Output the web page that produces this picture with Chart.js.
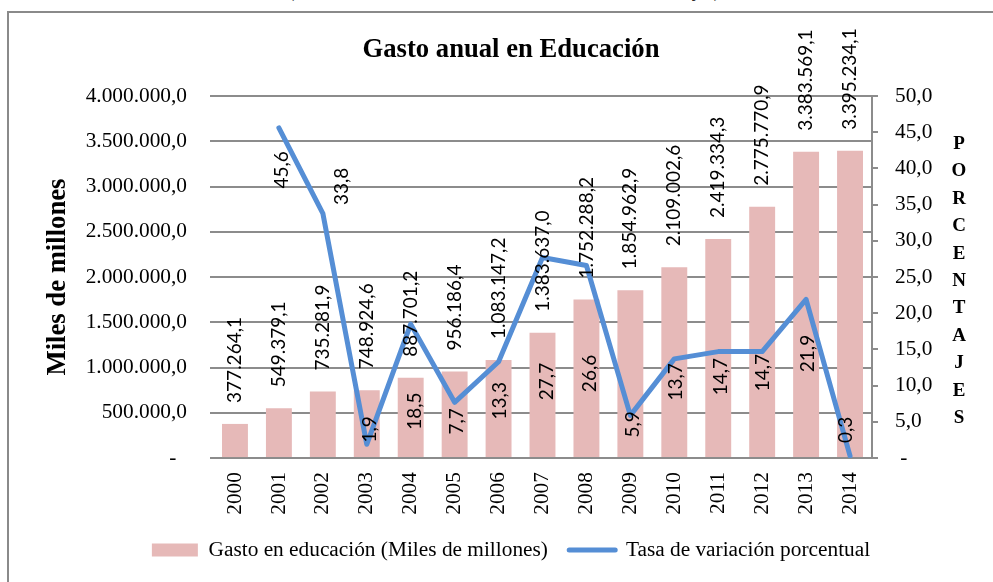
<!DOCTYPE html>
<html lang="es">
<head>
<meta charset="utf-8">
<title>Gasto anual en Educación</title>
<script src="https://cdn.jsdelivr.net/npm/chart.js@4.4.1/dist/chart.umd.min.js"></script>
<style>
  html, body { margin: 0; padding: 0; background: #fff; overflow: hidden; }
  .page { position: relative; width: 993px; height: 582px; overflow: hidden; }
  .frame {
    position: absolute; left: 7px; top: 11px; width: 1100px; height: 700px;
    border-left: 2px solid #8a8a8a; border-top: 2px solid #8a8a8a;
  }
  .cut-caption {
    position: absolute; left: 288px; top: -19px; white-space: nowrap;
    font: 19px/20px "Liberation Serif", "Times New Roman", serif; color: #000;
  }
  #chart-gasto { position: absolute; left: 0; top: 0; }
  .axis-right-title {
    position: absolute; left: 944px; top: 129px; width: 30px; text-align: center;
    font: bold 19px/27.4px "Liberation Serif", "Times New Roman", serif; color: #000;
  }
</style>
</head>
<body>
<div class="page">
  <div class="cut-caption">(Miles de millones de bolívares corrientes – Porcentajes)</div>
  <div class="frame"></div>
  <canvas id="chart-gasto" width="993" height="582"></canvas>
  <div class="axis-right-title" id="right-title"></div>
</div>
<script>
const SERIF = "'Liberation Serif', 'Times New Roman', serif";
const SANS = "Lato, 'Liberation Sans', sans-serif";
const TICK_SIZE = 21.33;

const YEARS = ["2000", "2001", "2002", "2003", "2004", "2005", "2006", "2007",
  "2008", "2009", "2010", "2011", "2012", "2013", "2014"];

// Gasto en educación (miles de millones)
const GASTO = [377264.1, 549379.1, 735281.9, 748924.6, 887701.2, 956186.4, 1083147.2,
  1383637.0, 1752288.2, 1854962.9, 2109002.6, 2419334.3, 2775770.9, 3383569.1, 3395234.1];

// Tasa de variación porcentual
const TASA = [null, 45.6, 33.8, 1.9, 18.5, 7.7, 13.3, 27.7, 26.6, 5.9, 13.7, 14.7, 14.7, 21.9, 0.3];

// where each rate label sits relative to its point (px), as placed in the original
const TASA_LABEL_SHIFT = [null, [3, 42], [19, -27], [3, -15], [4, 87], [2, 19], [1, 39],
  [4, 124], [3, 108], [3, 9], [2, 23], [3, 25], [1, 21], [2, 54], [-4, -26]];

const COLORS = { bar: "#E6B9B8", line: "#558ED5", grid: "#8c8c8c" };

function fmtEs(v, decimals = 1) {
  const [int, dec] = v.toFixed(decimals).split(".");
  return int.replace(/\B(?=(\d{3})+(?!\d))/g, ".") + "," + dec;
}

const valueLabels = {
  id: "valueLabels",
  afterDatasetsDraw(chart) {
    const ctx = chart.ctx;
    ctx.save();
    ctx.font = "19px " + SANS;
    ctx.fillStyle = "#000";
    ctx.textBaseline = "middle";

    chart.getDatasetMeta(0).data.forEach((bar, i) => {
      ctx.save();
      ctx.translate(bar.x, bar.y - 21);
      ctx.rotate(-Math.PI / 2);
      ctx.textAlign = "left";
      ctx.fillText(fmtEs(GASTO[i]), 0, 0);
      ctx.restore();
    });

    chart.getDatasetMeta(1).data.forEach((pt, i) => {
      if (TASA[i] == null) return;
      const [dx, dy] = TASA_LABEL_SHIFT[i];
      ctx.save();
      ctx.translate(pt.x + dx, pt.y + dy);
      ctx.rotate(-Math.PI / 2);
      ctx.textAlign = "center";
      ctx.fillText(fmtEs(TASA[i]), 0, 0);
      ctx.restore();
    });
    ctx.restore();
  },
};

function initRightTitle() {
  document.getElementById("right-title").innerHTML =
    "PORCENTAJES".split("").map((c) => `<div>${c}</div>`).join("");
}

function initGastoChart() {
  new Chart(document.getElementById("chart-gasto"), {
    type: "bar",
    data: {
      labels: YEARS,
      datasets: [
        {
          label: "Gasto en educación (Miles de millones)",
          data: GASTO,
          backgroundColor: COLORS.bar,
          borderWidth: 0,
          barPercentage: 0.59,
          categoryPercentage: 1,
          yAxisID: "y",
          order: 1,
        },
        {
          type: "line",
          label: "Tasa de variación porcentual",
          data: TASA,
          borderColor: COLORS.line,
          backgroundColor: COLORS.line,
          borderWidth: 5,
          borderJoinStyle: "round",
          borderCapStyle: "round",
          pointRadius: 0,
          tension: 0,
          yAxisID: "y1",
          order: 0,
        },
      ],
    },
    plugins: [valueLabels],
    options: {
      responsive: false,
      animation: false,
      events: [],
      layout: { padding: { left: 38, right: 9, top: 0, bottom: 11.3 } },
      plugins: {
        tooltip: { enabled: false },
        title: {
          display: true,
          text: "Gasto anual en Educación",
          color: "#000",
          font: { family: SERIF, size: 26.67, weight: "bold" },
          padding: { top: 34, bottom: 30 },
        },
        legend: {
          position: "bottom",
          labels: {
            color: "#000",
            font: { family: SERIF, size: TICK_SIZE },
            usePointStyle: true,
            pointStyleWidth: 46,
            boxHeight: 13,
            padding: 21.3,
            generateLabels: () => [
              {
                text: "Gasto en educación (Miles de millones)",
                fillStyle: COLORS.bar, strokeStyle: COLORS.bar, lineWidth: 0,
                pointStyle: "rect", hidden: false, datasetIndex: 0, fontColor: "#000",
              },
              {
                text: "Tasa de variación porcentual",
                fillStyle: COLORS.line, strokeStyle: COLORS.line, lineWidth: 5,
                lineCap: "round", pointStyle: "line", hidden: false, datasetIndex: 1, fontColor: "#000",
              },
            ],
          },
        },
      },
      scales: {
        x: {
          offset: true,
          grid: { display: false, drawTicks: false },
          border: { display: false },
          ticks: {
            minRotation: 90, maxRotation: 90, padding: 14, color: "#000",
            font: { family: SERIF, size: TICK_SIZE },
          },
          afterFit: (s) => { s.height = 60; },
        },
        y: {
          position: "left",
          min: 0,
          max: 4000000,
          grid: { color: COLORS.grid, lineWidth: 2, tickLength: 3 },
          border: { display: false },
          ticks: {
            stepSize: 500000, padding: 23, color: "#000",
            font: { family: SERIF, size: TICK_SIZE },
            callback: (v) => (v === 0 ? "-  " : fmtEs(v)),
          },
          title: {
            display: true,
            text: "Miles de millones",
            color: "#000",
            font: { family: SERIF, size: 26.67, weight: "bold" },
            padding: { top: 4, bottom: 4 },
          },
          afterFit: (s) => { s.width = 175; },
        },
        y1: {
          position: "right",
          min: 0,
          max: 50,
          grid: { drawOnChartArea: false, color: COLORS.grid, lineWidth: 2, tickLength: 6 },
          border: { display: true, color: COLORS.grid, width: 2 },
          ticks: {
            stepSize: 5, padding: 17, color: "#000",
            font: { family: SERIF, size: TICK_SIZE },
            callback: (v) => (v === 0 ? " -" : fmtEs(v)),
          },
          afterFit: (s) => { s.width = 112; },
        },
      },
    },
  });
}

document.addEventListener("DOMContentLoaded", () => {
  initRightTitle();
  initGastoChart();
});
</script>
</body>
</html>
